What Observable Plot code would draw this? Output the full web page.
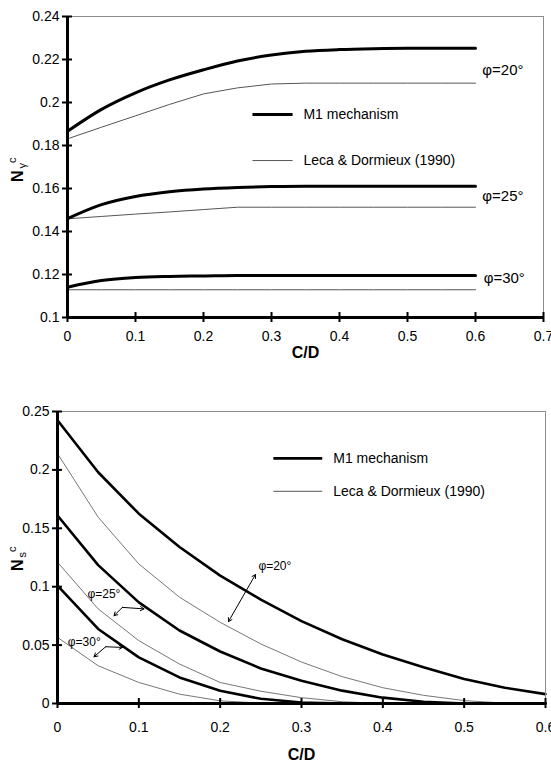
<!DOCTYPE html>
<html><head><meta charset="utf-8">
<script src="https://cdn.jsdelivr.net/npm/d3@7"></script>
<script src="https://cdn.jsdelivr.net/npm/@observablehq/plot@0.6"></script>
<style>html,body{margin:0;padding:0;background:#fff;overflow:hidden}#chart svg{display:block}</style>
</head><body><div id="chart"></div>
<script>
// C/D abscissa shared by all series
const cd = [0, 0.05, 0.1, 0.15, 0.2, 0.25, 0.3, 0.35, 0.4, 0.45, 0.5, 0.55, 0.6];

// Top chart: N_gamma^c
const m1Top20   = [0.1866, 0.1968, 0.2045, 0.2105, 0.2152, 0.2193, 0.2221, 0.2238, 0.2246, 0.2250, 0.2252, 0.2252, 0.2252];
const lecaTop20 = [0.1831, 0.1885, 0.1938, 0.1991, 0.2040, 0.2068, 0.2086, 0.2090, 0.2090, 0.2090, 0.2090, 0.2090, 0.2090];
const m1Top25   = [0.1460, 0.1525, 0.1563, 0.1585, 0.1598, 0.1605, 0.1609, 0.1611, 0.1611, 0.1611, 0.1611, 0.1611, 0.1611];
const lecaTop25 = [0.1459, 0.1470, 0.1481, 0.1491, 0.1502, 0.1513, 0.1513, 0.1513, 0.1513, 0.1513, 0.1513, 0.1513, 0.1513];
const m1Top30   = [0.1141, 0.1172, 0.1186, 0.1191, 0.1193, 0.1195, 0.1195, 0.1195, 0.1195, 0.1195, 0.1195, 0.1195, 0.1195];
const lecaTop30 = [0.1129, 0.1129, 0.1129, 0.1129, 0.1129, 0.1129, 0.1129, 0.1129, 0.1129, 0.1129, 0.1129, 0.1129, 0.1129];

// Bottom chart: N_s^c
const m1Bot20   = [0.2425, 0.1980, 0.1625, 0.1340, 0.1095, 0.0890, 0.0705, 0.0550, 0.0420, 0.0310, 0.0210, 0.0135, 0.0080];
const lecaBot20 = [0.2140, 0.1595, 0.1195, 0.0910, 0.0695, 0.0510, 0.0355, 0.0230, 0.0135, 0.0070, 0.0025, 0.0003, 0];
const m1Bot25   = [0.1610, 0.1185, 0.0866, 0.0625, 0.0445, 0.0300, 0.0195, 0.0110, 0.0050, 0.0015, 0, 0, 0];
const lecaBot25 = [0.1210, 0.0810, 0.0538, 0.0338, 0.0180, 0.0105, 0.0050, 0.0015, 0, 0, 0, 0, 0];
const m1Bot30   = [0.1010, 0.0638, 0.0395, 0.0223, 0.0110, 0.0040, 0.0008, 0, 0, 0, 0, 0, 0];
const lecaBot30 = [0.0566, 0.0323, 0.0180, 0.0080, 0.0023, 0.0003, 0, 0, 0, 0, 0, 0, 0];

// Ticks
const xTicksTop = [0, 0.1, 0.2, 0.3, 0.4, 0.5, 0.6, 0.7];
const xTickLabelsTop = ["0", "0.1", "0.2", "0.3", "0.4", "0.5", "0.6", "0.7"];
const yTicksTop = [0.1, 0.12, 0.14, 0.16, 0.18, 0.2, 0.22, 0.24];
const yTickLabelsTop = ["0.1", "0.12", "0.14", "0.16", "0.18", "0.2", "0.22", "0.24"];
const xTicksBot = [0, 0.1, 0.2, 0.3, 0.4, 0.5, 0.6];
const xTickLabelsBot = ["0", "0.1", "0.2", "0.3", "0.4", "0.5", "0.6"];
const yTicksBot = [0, 0.05, 0.1, 0.15, 0.2, 0.25];
const yTickLabelsBot = ["0", "0.05", "0.1", "0.15", "0.2", "0.25"];

// Text
const legendLabels = ["M1 mechanism", "Leca & Dormieux (1990)"];
const phiLabels = ["φ=20°", "φ=25°", "φ=30°"];

// Annotation anchors (data units)
const phiTopPos = [{x: 0.61, y: 0.2150}, {x: 0.61, y: 0.1566}, {x: 0.612, y: 0.1183}];
const legendTopPos = {x1: 0.272, x2: 0.331, tx: 0.347, y: [0.1944, 0.1730]};
const legendBotPos = {x1: 0.2654, x2: 0.3255, tx: 0.339, y: [0.2099, 0.1816]};
const phiBotPos = [{x: 0.247, y: 0.118}, {x: 0.0368, y: 0.094}, {x: 0.0127, y: 0.0529}];
const arrowsBot = [
  {x1: 0.2268, y1: 0.0903, x2: 0.2434, y2: 0.1104},
  {x1: 0.2268, y1: 0.0903, x2: 0.2102, y2: 0.0701},
  {x1: 0.0798, y1: 0.0823, x2: 0.0695, y2: 0.0752},
  {x1: 0.0798, y1: 0.0823, x2: 0.1063, y2: 0.0810},
  {x1: 0.0593, y1: 0.0486, x2: 0.0449, y2: 0.0400},
  {x1: 0.0593, y1: 0.0486, x2: 0.0801, y2: 0.0480}
];

function rows(list) {
  const out = [];
  list.forEach(([method, phi, vals]) => vals.forEach((v, i) => out.push({cd: cd[i], n: v, method, phi})));
  return out;
}
const topRows = rows([["M1", 20, m1Top20], ["Leca", 20, lecaTop20], ["M1", 25, m1Top25], ["Leca", 25, lecaTop25], ["M1", 30, m1Top30], ["Leca", 30, lecaTop30]]);
const botRows = rows([["M1", 20, m1Bot20], ["Leca", 20, lecaBot20], ["M1", 25, m1Bot25], ["Leca", 25, lecaBot25], ["M1", 30, m1Bot30], ["Leca", 30, lecaBot30]]);

const FONT = "Liberation Sans, Arial, Helvetica, sans-serif";
const fmt = (ticks, labels) => d => labels[ticks.indexOf(d)];

function axes(xt, xl, yt, yl, xPad, xLabelDy) {
  return [
    Plot.frame({stroke: "#8c8c8c", strokeWidth: 1}),
    Plot.ruleX([xt[0]], {stroke: "#000", strokeWidth: 3}),
    Plot.ruleY([yt[0]], {stroke: "#000", strokeWidth: 3}),
    Plot.axisY({ticks: yt, tickSize: 10, dx: 5, strokeWidth: 2, stroke: "#000", fill: "none", label: null}),
    Plot.axisX({ticks: xt, tickSize: 10, dy: -5, strokeWidth: 2, stroke: "#000", fill: "none", label: null}),
    Plot.axisY({ticks: yt, tickSize: 0, tickPadding: 8, tickFormat: fmt(yt, yl), label: null, fontSize: 14, fill: "#000"}),
    Plot.axisX({ticks: xt, tickSize: 0, tickPadding: xPad, tickFormat: fmt(xt, xl), label: null, fontSize: 14, fill: "#000"}),
    Plot.text(["C/D"], {frameAnchor: "bottom", dy: xLabelDy, fontWeight: "bold", fontSize: 16, fill: "#000"})
  ];
}

function yLabel(svg, x, y, sub) {
  const t = d3.select(svg).append("text")
    .attr("transform", `translate(${x},${y}) rotate(-90)`)
    .attr("text-anchor", "start").attr("font-family", FONT).attr("fill", "#000");
  t.append("tspan").attr("font-weight", "bold").attr("font-size", 16).text("N");
  t.append("tspan").attr("font-size", 11).attr("dx", 2).attr("dy", 3).text(sub);
  t.append("tspan").attr("font-size", 11).attr("dx", 0).attr("dy", -10).text("c");
}

const topChart = Plot.plot({
  width: 551, height: 375,
  marginLeft: 67, marginRight: 8, marginTop: 16, marginBottom: 58,
  style: {fontFamily: FONT, fontSize: "14px", background: "#fff", color: "#000"},
  x: {domain: [0, 0.7], axis: null},
  y: {domain: [0.1, 0.24], axis: null},
  marks: [
    Plot.line(topRows.filter(d => d.method === "Leca"), {x: "cd", y: "n", z: "phi", stroke: "#555", strokeWidth: 1}),
    Plot.line(topRows.filter(d => d.method === "M1"), {x: "cd", y: "n", z: "phi", stroke: "#000", strokeWidth: 3, curve: "monotone-x"}),
    ...axes(xTicksTop, xTickLabelsTop, yTicksTop, yTickLabelsTop, 14, 40),
    Plot.link([legendTopPos], {x1: "x1", x2: "x2", y1: d => d.y[0], y2: d => d.y[0], stroke: "#000", strokeWidth: 3}),
    Plot.link([legendTopPos], {x1: "x1", x2: "x2", y1: d => d.y[1], y2: d => d.y[1], stroke: "#555", strokeWidth: 1}),
    Plot.text(legendLabels, {x: () => legendTopPos.tx, y: (d, i) => legendTopPos.y[i], text: d => d, textAnchor: "start", fontSize: 14, fill: "#000"}),
    Plot.text(phiLabels, {x: (d, i) => phiTopPos[i].x, y: (d, i) => phiTopPos[i].y, text: d => d, textAnchor: "start", fontSize: 15, fill: "#000"})
  ]
});
yLabel(topChart, 23, 182, "γ");

const botChart = Plot.plot({
  width: 551, height: 392,
  marginLeft: 57, marginRight: 6, marginTop: 36, marginBottom: 64,
  style: {fontFamily: FONT, fontSize: "14px", background: "#fff", color: "#000"},
  x: {domain: [0, 0.6], axis: null},
  y: {domain: [0, 0.25], axis: null},
  marks: [
    Plot.line(botRows.filter(d => d.method === "Leca"), {x: "cd", y: "n", z: "phi", stroke: "#777", strokeWidth: 1}),
    Plot.line(botRows.filter(d => d.method === "M1"), {x: "cd", y: "n", z: "phi", stroke: "#000", strokeWidth: 2.6}),
    ...axes(xTicksBot, xTickLabelsBot, yTicksBot, yTickLabelsBot, 19, 56),
    Plot.link([legendBotPos], {x1: "x1", x2: "x2", y1: d => d.y[0], y2: d => d.y[0], stroke: "#000", strokeWidth: 2.6}),
    Plot.link([legendBotPos], {x1: "x1", x2: "x2", y1: d => d.y[1], y2: d => d.y[1], stroke: "#777", strokeWidth: 1.2}),
    Plot.text(legendLabels, {x: () => legendBotPos.tx, y: (d, i) => legendBotPos.y[i], text: d => d, textAnchor: "start", fontSize: 14, fill: "#000"}),
    Plot.text(phiLabels, {x: (d, i) => phiBotPos[i].x, y: (d, i) => phiBotPos[i].y, text: d => d, textAnchor: "start", fontSize: 12, fill: "#000"}),
    Plot.arrow(arrowsBot, {x1: "x1", y1: "y1", x2: "x2", y2: "y2", stroke: "#000", strokeWidth: 1, headLength: 6})
  ]
});
yLabel(botChart, 23, 196, "s");

document.getElementById("chart").append(topChart, botChart);
</script>
</body></html>
